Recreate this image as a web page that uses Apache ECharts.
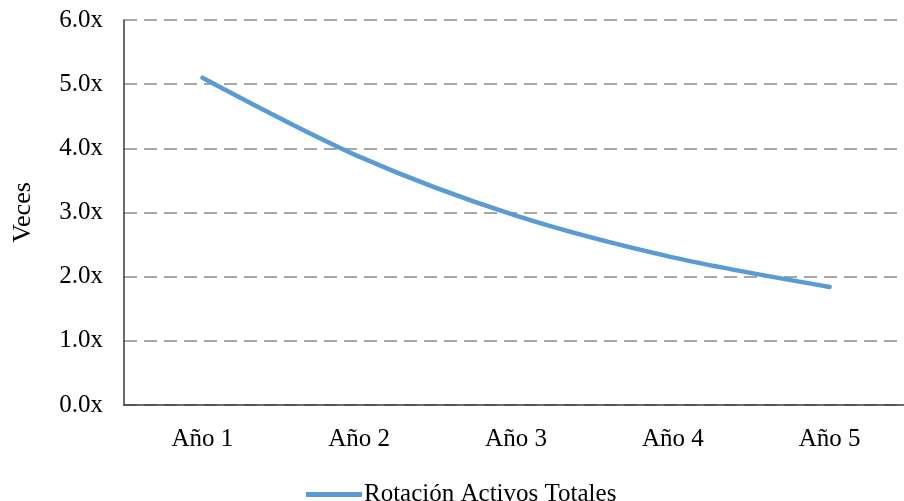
<!DOCTYPE html>
<html>
<head>
<meta charset="utf-8">
<script src="https://cdn.jsdelivr.net/npm/echarts@6/dist/echarts.min.js"></script>
<style>
  html, body { margin: 0; padding: 0; background: #fff; }
  #chart { width: 904px; height: 501px; }
</style>
</head>
<body>
<div id="chart"></div>
<script>
// data
const categories = ['Año 1', 'Año 2', 'Año 3', 'Año 4', 'Año 5']
const rotacionActivos = [5.10, 3.87, 2.95, 2.30, 1.84]
const seriesName = 'Rotación Activos Totales'
const yTicks = { min: 0, max: 6, step: 1 }

const font = '"Liberation Serif", "Times New Roman", serif'

const chart = echarts.init(document.getElementById('chart'))

const option = {
  animation: false,
  grid: {
    left: 124,
    right: -4,
    top: 20,
    bottom: 96,
    outerBoundsMode: 'none',
    containLabel: false
  },
  legend: {
    data: [{ name: seriesName, icon: 'rect' }],
    left: 301,
    top: 477,
    itemWidth: 56,
    itemHeight: 5,
    itemGap: 10,
    textStyle: {
      fontFamily: font,
      fontSize: 25,
      color: '#000',
      padding: [0, 0, 0, -3]
    }
  },
  xAxis: {
    type: 'category',
    data: categories,
    boundaryGap: true,
    axisLine: { lineStyle: { color: '#3a3a3a', width: 1.5 } },
    axisTick: { show: false },
    axisLabel: {
      margin: 22,
      fontFamily: font,
      fontSize: 25,
      color: '#000'
    }
  },
  yAxis: {
    type: 'value',
    min: yTicks.min,
    max: yTicks.max,
    interval: yTicks.step,
    name: 'Veces',
    nameLocation: 'middle',
    nameGap: 88,
    nameTextStyle: {
      fontFamily: font,
      fontSize: 26,
      color: '#000'
    },
    axisLine: { show: true, lineStyle: { color: '#3a3a3a', width: 1.5 } },
    axisTick: { show: false },
    axisLabel: {
      margin: 21,
      fontFamily: font,
      fontSize: 25,
      color: '#000',
      formatter: function (v) { return v.toFixed(1) + 'x' }
    },
    splitLine: {
      show: true,
      lineStyle: { color: '#8a8a8a', width: 1.5, type: [13, 7] }
    }
  },
  series: [
    {
      name: seriesName,
      type: 'line',
      data: rotacionActivos,
      smooth: 0.3,
      showSymbol: false,
      symbol: 'none',
      itemStyle: { color: '#5B9BD5' },
      lineStyle: { color: '#5B9BD5', width: 4.5, cap: 'round' }
    }
  ]
}

chart.setOption(option)
</script>
</body>
</html>
